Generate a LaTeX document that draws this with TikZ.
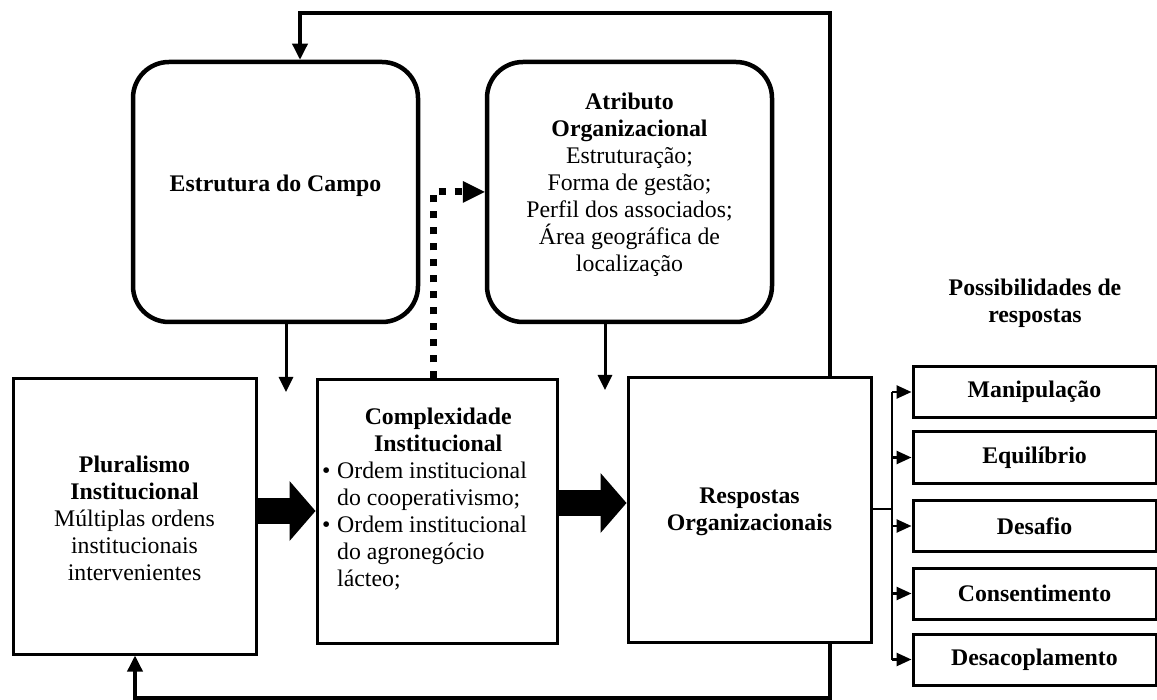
\documentclass[tikz,border=0pt]{standalone}
\usepackage{fontspec}
\setmainfont{Liberation Serif}
\usetikzlibrary{arrows.meta}
\begin{document}
\begin{tikzpicture}[x=1pt,y=-1pt,
  txt/.style={font=\fontsize{23.8pt}{27pt}\selectfont, align=center, inner sep=0pt},
  rbox/.style={draw, line width=4.5pt, rounded corners=36pt, minimum width=285pt, minimum height=260pt, inner sep=0pt},
  sbox/.style={draw, line width=3pt, inner sep=0pt},
  obox/.style={draw, line width=3pt, minimum width=243pt, minimum height=51pt, inner sep=0pt, font=\fontsize{23.8pt}{27pt}\selectfont\bfseries},
  loopline/.style={line width=3.5pt, -{Triangle[length=16pt,width=15pt]}},
  feed/.style={line width=3pt, -{Triangle[length=15pt,width=14pt]}},
  bigarrow/.style={line width=26pt, -{Triangle[length=26pt,width=60pt,line width=0pt]}},
  dotarrow/.style={line width=7pt, dash pattern=on 7pt off 9pt, -{Triangle[length=22pt,width=22pt,line width=0pt]}},
  branch/.style={line width=2.5pt},
  brancharrow/.style={line width=2.5pt, -{Triangle[length=15pt,width=13pt]}}
]
\useasboundingbox (0,0) rectangle (1157,700);

% upper rounded boxes
\node[rbox] (ec) at (275.5,192) {};
\node[rbox] (at) at (629.5,192) {};
% main rectangular boxes
\node[sbox, minimum width=243pt, minimum height=275pt] (pl) at (134.5,516.5) {};
\node[sbox, minimum width=240pt, minimum height=263pt] (cx) at (437,511.5) {};
\node[sbox, minimum width=243pt, minimum height=264pt] (rs) at (749.5,510) {};
% response options
\node[obox] (r1) at (1034.5,392) {Manipulação};
\node[obox] (r2) at (1034.5,457.5) {Equilíbrio};
\node[obox] (r3) at (1034.5,526) {Desafio};
\node[obox] (r4) at (1034.5,593.5) {Consentimento};
\node[obox] (r5) at (1034.5,659.5) {Desacoplamento};

% texts
\node[txt, anchor=base] (ect) at (275.5,192) {\bfseries Estrutura do Campo};
\node[txt] (att) at (629.5,185) {\textbf{Atributo}\\\textbf{Organizacional}\\Estruturação;\\Forma de gestão;\\Perfil dos associados;\\Área geográfica de\\localização};
\node[txt] (plt) at (134.5,518) {\textbf{Pluralismo}\\\textbf{Institucional}\\Múltiplas ordens\\institucionais\\intervenientes};
\node[txt, align=left, anchor=west] (cxt) at (322,499.5) {%
  \makebox[232pt]{\bfseries Complexidade}\\
  \makebox[232pt]{\bfseries Institucional}\\
  \makebox[15pt][l]{•}Ordem institucional\\
  \hspace*{15pt}do cooperativismo;\\
  \makebox[15pt][l]{•}Ordem institucional\\
  \hspace*{15pt}do agronegócio\\
  \hspace*{15pt}lácteo;};
\node[txt] (rst) at (749.5,512) {\textbf{Respostas}\\\textbf{Organizacionais}};
\node[txt] (pos) at (1035,303.5) {\textbf{Possibilidades de}\\\textbf{respostas}};

% feedback loops
\coordinate (tr) at (830,13);
\coordinate (tl) at (300,13);
\coordinate (br) at (830,698);
\coordinate (bl) at (135,698);
\draw[loopline] (rs.north -| tr) -- (tr) -- (tl) -- (ec.north -| tl);
\draw[loopline] (rs.south -| br) -- (br) -- (bl) -- (pl.south -| bl);

% arrows from the upper boxes
\coordinate (ea) at (286,392);
\coordinate (aa) at (605,390);
\draw[feed] (ec.south -| ea) -- (ea);
\draw[feed] (at.south -| aa) -- (aa);

% dotted link
\coordinate (dc) at (433,192);
\draw[dotarrow] (cx.north -| dc) -- (dc) -- (at.west |- dc);

% broad arrows
\coordinate (b1) at (0,511);
\coordinate (b2) at (0,503);
\draw[bigarrow] (pl.east |- b1) -- (cx.west |- b1);
\draw[bigarrow] (cx.east |- b2) -- (rs.west |- b2);

% branching to the options
\coordinate (bx) at (892,509);
\draw[branch] (rs.east |- bx) -- (bx);
\draw[branch] (bx |- r1.west) -- (bx |- r5.west);
\foreach \r in {r1,r2,r3,r4,r5}
  \draw[brancharrow] (bx |- \r.west) -- (\r.west);
\end{tikzpicture}
\end{document}
